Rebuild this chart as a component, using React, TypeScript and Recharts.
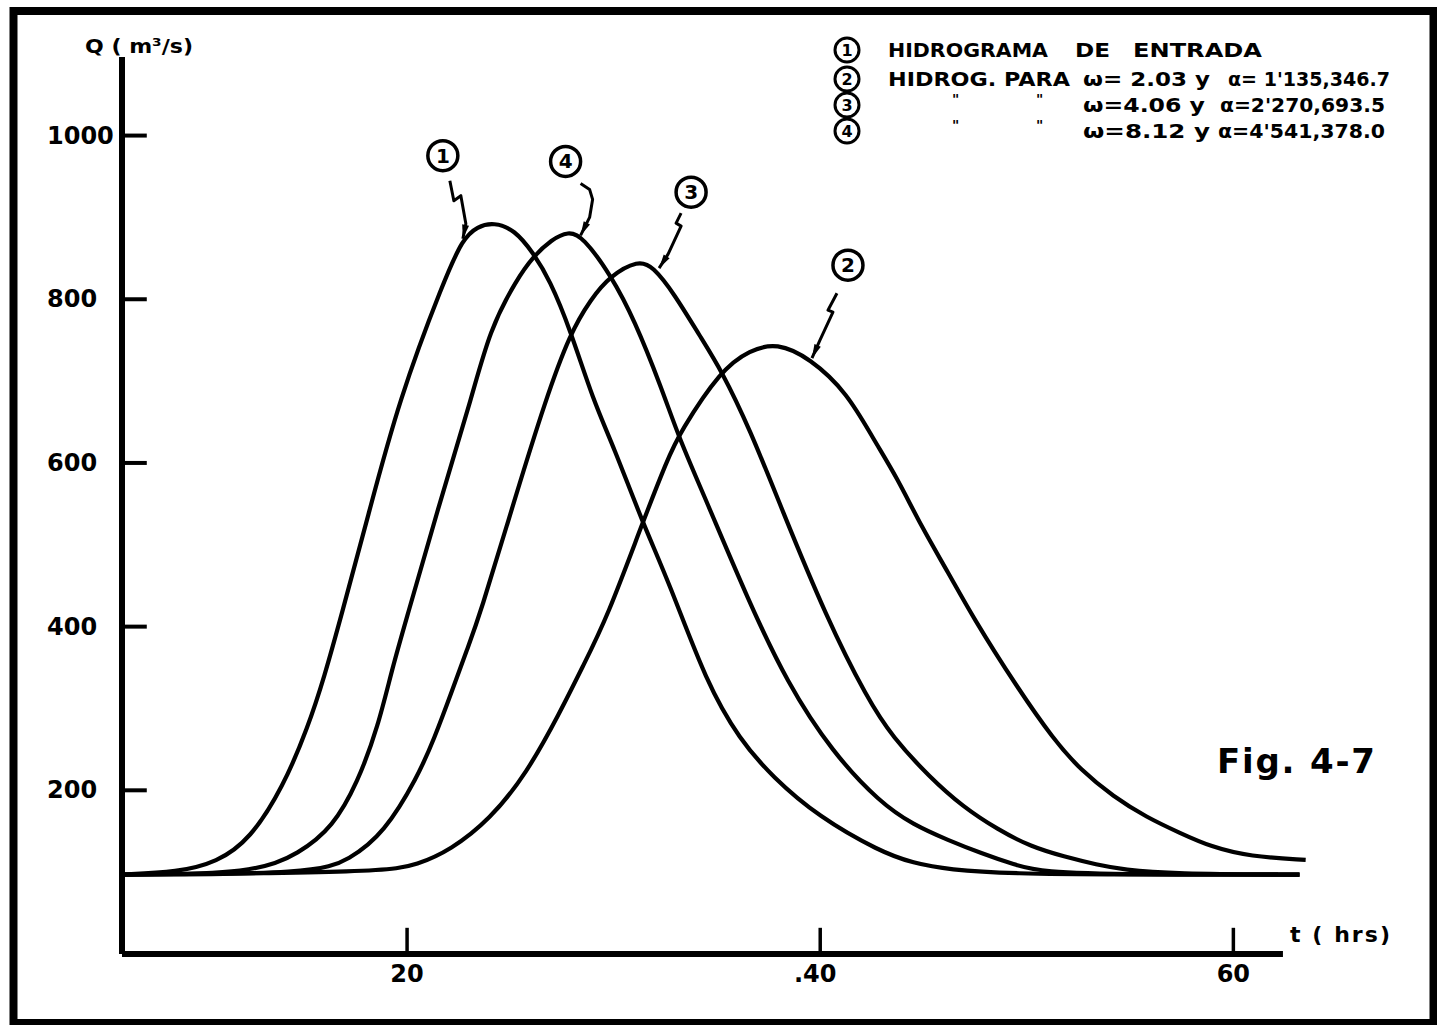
import { LineChart, Line, XAxis, YAxis, ReferenceLine, ReferenceDot } from 'recharts';

// Hidrogramas: t (hrs) vs Q (m3/s)
const entradaT = [6.2, 8.9, 10.8, 12.4, 14.0, 15.2, 16.0, 16.8, 18.1, 19.6, 21.8, 22.7, 23.4, 24.2, 25.2, 26.1, 26.9, 27.9, 29.0, 30.0, 31.4, 32.7, 34.5, 36.1, 37.7, 39.9, 42.9, 44.5, 46.2, 49.4, 54.0, 63.2];
const entradaQ = [97, 100, 112, 140, 204, 277, 339, 412, 534, 677, 824, 874, 889, 894, 885, 857, 824, 763, 677, 620, 527, 453, 331, 262, 216, 168, 125, 111, 103, 98, 97, 97];

const w203T = [6.2, 18.9, 20.5, 22.1, 24.0, 25.8, 27.4, 28.5, 29.7, 31.4, 32.6, 33.2, 35.2, 36.6, 37.9, 39.5, 41.3, 42.6, 43.7, 44.9, 46.2, 47.4, 49.5, 51.3, 52.6, 54.2, 55.8, 57.4, 58.9, 60.8, 63.5];
const w203Q = [97, 100, 109, 127, 164, 221, 295, 351, 412, 527, 604, 637, 714, 738, 747, 728, 686, 628, 583, 522, 466, 411, 327, 262, 225, 192, 167, 148, 131, 119, 115];

const w406T = [6.2, 15.5, 17.2, 18.9, 20.5, 21.3, 22.2, 22.9, 23.5, 25.2, 26.7, 27.9, 28.9, 29.8, 31.2, 31.9, 32.9, 34.2, 35.2, 36.6, 38.1, 40.3, 42.3, 43.5, 45.3, 46.9, 48.6, 50.2, 51.8, 53.4, 54.7, 57.0, 63.2];
const w406Q = [97, 98, 115, 148, 216, 262, 323, 372, 412, 555, 677, 759, 800, 828, 848, 840, 808, 754, 714, 641, 546, 411, 311, 265, 216, 180, 152, 131, 119, 109, 103, 98, 97];

const w812T = [6.2, 12.6, 14.8, 16.4, 17.6, 18.6, 19.3, 20.0, 21.5, 23.1, 24.0, 25.3, 26.1, 27.0, 27.8, 28.5, 29.9, 31.0, 32.3, 33.2, 34.4, 36.5, 38.4, 40.6, 42.9, 44.5, 46.2, 47.8, 49.4, 50.7, 55.0, 63.2];
const w812Q = [97, 98, 123, 155, 209, 278, 351, 412, 545, 677, 763, 824, 852, 873, 883, 877, 828, 775, 693, 628, 559, 433, 331, 246, 185, 158, 139, 123, 109, 100, 97, 97];

const xTicks = [20, 40, 60];
const xTickLabels = ['20', '.40', '60'];
const yTicks = [200, 400, 600, 800, 1000];

// curve callouts: number and the point on the curve the arrow touches
const tagNums = ['1', '4', '3', '2'];
const tagT = [22.7, 28.4, 32.2, 39.6];
const tagQ = [874, 878, 838, 728];

const zip = (t: number[], q: number[]) => t.map((v, i) => ({ t: v, q: q[i] }));

const series = [
  { key: 'entrada', data: zip(entradaT, entradaQ) },
  { key: 'w203', data: zip(w203T, w203Q) },
  { key: 'w406', data: zip(w406T, w406Q) },
  { key: 'w812', data: zip(w812T, w812Q) },
];

const FONT = "'DejaVu Sans', sans-serif";

// squiggle + circle placement relative to the arrow tip
const TAG_SHAPES: Record<string, { circle: [number, number]; path: number[][] }> = {
  '1': { circle: [-20, -83], path: [[-13, -58], [-9, -38], [-2, -43], [3, -15], [0, 0]] },
  '4': { circle: [-15, -74], path: [[0, -52], [9, -46], [12, -36], [9, -18], [0, 0]] },
  '3': { circle: [32, -76], path: [[22, -55], [17, -45], [22, -42], [9, -14], [0, 0]] },
  '2': { circle: [36, -93], path: [[25, -65], [16, -48], [21, -46], [8, -18], [0, 0]] },
};

function Tag({ cx, cy, n }: any) {
  const s = TAG_SHAPES[n];
  const pts = s.path;
  const d = pts.map((p, i) => `${i ? 'L' : 'M'}${cx + p[0]},${cy + p[1]}`).join(' ');
  const [px, py] = pts[pts.length - 2];
  const len = Math.hypot(px, py);
  const bx = (px / len) * 14;
  const by = (py / len) * 14;
  const nx = (-py / len) * 3.5;
  const ny = (px / len) * 3.5;
  const head = `${cx},${cy} ${cx + bx + nx},${cy + by + ny} ${cx + bx - nx},${cy + by - ny}`;
  return (
    <g>
      <path d={d} fill="none" stroke="#000" strokeWidth={3} strokeLinejoin="round" />
      <polygon points={head} fill="#000" />
      <circle cx={cx + s.circle[0]} cy={cy + s.circle[1]} r={15} fill="#fff" stroke="#000" strokeWidth={3.5} />
      <text x={cx + s.circle[0]} y={cy + s.circle[1] + 7} textAnchor="middle" fontFamily={FONT} fontWeight="bold" fontSize={20}>{n}</text>
    </g>
  );
}

const YTick = ({ y, payload }: any) => (
  <text x={47} y={y + 8} fontFamily={FONT} fontWeight="bold" fontSize={24} fill="#000">{payload.value}</text>
);

const XTick = ({ x, y, payload }: any) => {
  const label = xTickLabels[xTicks.indexOf(payload.value)];
  return (
    <text x={x} y={y + 28} dx={label.startsWith('.') ? -5 : 0} textAnchor="middle" fontFamily={FONT} fontWeight="bold" fontSize={24} fill="#000">
      {label}
    </text>
  );
};

function LegendRow({ y, n, children }: any) {
  return (
    <g>
      <circle cx={847} cy={y} r={12} fill="#fff" stroke="#000" strokeWidth={3} />
      <text x={847} y={y + 6} textAnchor="middle" fontSize={16}>{n}</text>
      {children}
    </g>
  );
}

export default function App() {
  return (
    <div style={{ position: 'absolute', left: 0, top: 0, width: 1437, height: 1025, background: '#fff' }}>
      <LineChart width={1437} height={1025} margin={{ top: 57, right: 121, bottom: 31, left: 0 }}>
        <XAxis dataKey="t" type="number" domain={[6.2, 64]} ticks={xTicks} axisLine={false} tickLine={false} tickSize={0} tickMargin={0} height={40} tick={<XTick />} allowDataOverflow />
        <YAxis type="number" domain={[0, 1096]} ticks={yTicks} width={122} tickLine={false} tickSize={0} tickMargin={0} axisLine={{ stroke: '#000', strokeWidth: 6 }} tick={<YTick />} allowDataOverflow />
        <ReferenceLine segment={[{ x: 6.2, y: 0 }, { x: 62.4, y: 0 }]} stroke="#000" strokeWidth={6} ifOverflow="visible" />
        {yTicks.map((v) => (
          <ReferenceLine key={`yt${v}`} segment={[{ x: 6.2, y: v }, { x: 7.4, y: v }]} stroke="#000" strokeWidth={4} />
        ))}
        {xTicks.map((v) => (
          <ReferenceLine key={`xt${v}`} segment={[{ x: v, y: 0 }, { x: v, y: 32 }]} stroke="#000" strokeWidth={3.5} />
        ))}
        {series.map((s) => (
          <Line key={s.key} data={s.data} dataKey="q" type="basis" stroke="#000" strokeWidth={4.2} dot={false} activeDot={false} isAnimationActive={false} />
        ))}
        {tagNums.map((n, i) => (
          <ReferenceDot key={`tag${n}`} x={tagT[i]} y={tagQ[i]} shape={(p: any) => <Tag {...p} n={n} />} />
        ))}
      </LineChart>
      <svg width={1437} height={1025} style={{ position: 'absolute', left: 0, top: 0, pointerEvents: 'none' }} fontFamily={FONT} fontWeight="bold" fill="#000">
        <rect x={13.5} y={11} width={1420} height={1012} fill="none" stroke="#000" strokeWidth={8} />
        <text x={85} y={53} fontSize={20} textLength={108} lengthAdjust="spacingAndGlyphs">Q ( m³/s)</text>
        <text x={1290} y={942} fontSize={22} textLength={100} lengthAdjust="spacing">t  ( hrs)</text>
        <text x={1217} y={773} fontSize={34} textLength={158} lengthAdjust="spacing">Fig. 4-7</text>
        <g fontSize={20}>
          <LegendRow y={50} n="1">
            <text x={888} y={57} textLength={160} lengthAdjust="spacingAndGlyphs">HIDROGRAMA</text>
            <text x={1075} y={57} textLength={35} lengthAdjust="spacingAndGlyphs">DE</text>
            <text x={1133} y={57} textLength={129} lengthAdjust="spacingAndGlyphs">ENTRADA</text>
          </LegendRow>
          <LegendRow y={79} n="2">
            <text x={888} y={86} textLength={182} lengthAdjust="spacingAndGlyphs">HIDROG. PARA</text>
            <text x={1083} y={86} textLength={127} lengthAdjust="spacingAndGlyphs">ω= 2.03  y</text>
            <text x={1228} y={86} textLength={162} lengthAdjust="spacingAndGlyphs">α= 1'135,346.7</text>
          </LegendRow>
          <LegendRow y={105} n="3">
            <text x={952} y={104} fontSize={14}>"</text>
            <text x={1036} y={104} fontSize={14}>"</text>
            <text x={1083} y={112} textLength={122} lengthAdjust="spacingAndGlyphs">ω=4.06  y</text>
            <text x={1220} y={112} textLength={165} lengthAdjust="spacingAndGlyphs">α=2'270,693.5</text>
          </LegendRow>
          <LegendRow y={131} n="4">
            <text x={952} y={130} fontSize={14}>"</text>
            <text x={1036} y={130} fontSize={14}>"</text>
            <text x={1083} y={138} textLength={127} lengthAdjust="spacingAndGlyphs">ω=8.12  y</text>
            <text x={1218} y={138} textLength={167} lengthAdjust="spacingAndGlyphs">α=4'541,378.0</text>
          </LegendRow>
        </g>
      </svg>
    </div>
  );
}
